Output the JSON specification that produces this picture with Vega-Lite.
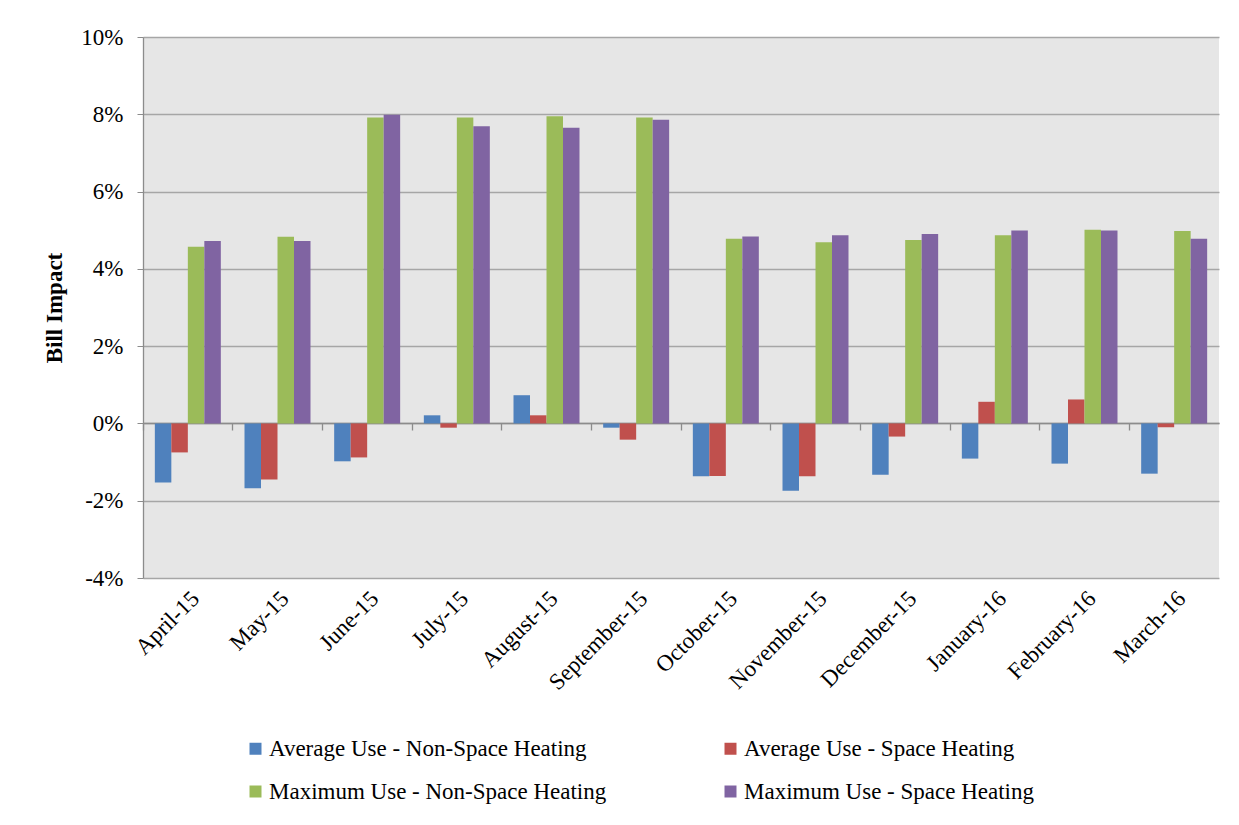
{
  "$schema": "https://vega.github.io/schema/vega-lite/v6.json",
  "width": 1076,
  "height": 541,
  "autosize": {"type": "none"},
  "padding": {"left": 143, "top": 37, "right": 20, "bottom": 247},
  "background": "white",
  "config": {
    "view": {"stroke": null, "fill": "#e6e6e6"},
    "font": "Liberation Serif"
  },
  "data": {
    "values": [
      {"month": "April-15", "series": "Average Use - Non-Space Heating", "value": -1.53},
      {"month": "April-15", "series": "Average Use - Space Heating", "value": -0.75},
      {"month": "April-15", "series": "Maximum Use - Non-Space Heating", "value": 4.57},
      {"month": "April-15", "series": "Maximum Use - Space Heating", "value": 4.72},
      {"month": "May-15", "series": "Average Use - Non-Space Heating", "value": -1.68},
      {"month": "May-15", "series": "Average Use - Space Heating", "value": -1.45},
      {"month": "May-15", "series": "Maximum Use - Non-Space Heating", "value": 4.83},
      {"month": "May-15", "series": "Maximum Use - Space Heating", "value": 4.72},
      {"month": "June-15", "series": "Average Use - Non-Space Heating", "value": -0.98},
      {"month": "June-15", "series": "Average Use - Space Heating", "value": -0.88},
      {"month": "June-15", "series": "Maximum Use - Non-Space Heating", "value": 7.92},
      {"month": "June-15", "series": "Maximum Use - Space Heating", "value": 7.99},
      {"month": "July-15", "series": "Average Use - Non-Space Heating", "value": 0.21},
      {"month": "July-15", "series": "Average Use - Space Heating", "value": -0.11},
      {"month": "July-15", "series": "Maximum Use - Non-Space Heating", "value": 7.92},
      {"month": "July-15", "series": "Maximum Use - Space Heating", "value": 7.69},
      {"month": "August-15", "series": "Average Use - Non-Space Heating", "value": 0.73},
      {"month": "August-15", "series": "Average Use - Space Heating", "value": 0.21},
      {"month": "August-15", "series": "Maximum Use - Non-Space Heating", "value": 7.95},
      {"month": "August-15", "series": "Maximum Use - Space Heating", "value": 7.65},
      {"month": "September-15", "series": "Average Use - Non-Space Heating", "value": -0.11},
      {"month": "September-15", "series": "Average Use - Space Heating", "value": -0.42},
      {"month": "September-15", "series": "Maximum Use - Non-Space Heating", "value": 7.92},
      {"month": "September-15", "series": "Maximum Use - Space Heating", "value": 7.86},
      {"month": "October-15", "series": "Average Use - Non-Space Heating", "value": -1.37},
      {"month": "October-15", "series": "Average Use - Space Heating", "value": -1.36},
      {"month": "October-15", "series": "Maximum Use - Non-Space Heating", "value": 4.78},
      {"month": "October-15", "series": "Maximum Use - Space Heating", "value": 4.84},
      {"month": "November-15", "series": "Average Use - Non-Space Heating", "value": -1.74},
      {"month": "November-15", "series": "Average Use - Space Heating", "value": -1.37},
      {"month": "November-15", "series": "Maximum Use - Non-Space Heating", "value": 4.69},
      {"month": "November-15", "series": "Maximum Use - Space Heating", "value": 4.87},
      {"month": "December-15", "series": "Average Use - Non-Space Heating", "value": -1.33},
      {"month": "December-15", "series": "Average Use - Space Heating", "value": -0.34},
      {"month": "December-15", "series": "Maximum Use - Non-Space Heating", "value": 4.75},
      {"month": "December-15", "series": "Maximum Use - Space Heating", "value": 4.90},
      {"month": "January-16", "series": "Average Use - Non-Space Heating", "value": -0.91},
      {"month": "January-16", "series": "Average Use - Space Heating", "value": 0.56},
      {"month": "January-16", "series": "Maximum Use - Non-Space Heating", "value": 4.87},
      {"month": "January-16", "series": "Maximum Use - Space Heating", "value": 4.99},
      {"month": "February-16", "series": "Average Use - Non-Space Heating", "value": -1.04},
      {"month": "February-16", "series": "Average Use - Space Heating", "value": 0.62},
      {"month": "February-16", "series": "Maximum Use - Non-Space Heating", "value": 5.01},
      {"month": "February-16", "series": "Maximum Use - Space Heating", "value": 4.99},
      {"month": "March-16", "series": "Average Use - Non-Space Heating", "value": -1.30},
      {"month": "March-16", "series": "Average Use - Space Heating", "value": -0.10},
      {"month": "March-16", "series": "Maximum Use - Non-Space Heating", "value": 4.98},
      {"month": "March-16", "series": "Maximum Use - Space Heating", "value": 4.78}
    ]
  },
  "encoding": {
    "x": {
      "field": "month",
      "type": "nominal",
      "sort": null,
      "scale": {"paddingInner": 0.264, "paddingOuter": 0.132}
    },
    "xOffset": {
      "field": "series",
      "type": "nominal",
      "sort": null,
      "scale": {"paddingInner": 0, "paddingOuter": 0}
    },
    "y": {
      "field": "value",
      "type": "quantitative",
      "scale": {"domain": [-4, 10], "nice": false, "zero": false},
      "axis": {
        "title": "Bill Impact",
        "titleFont": "Liberation Serif",
        "titleFontSize": 23,
        "titleFontWeight": "bold",
        "titleColor": "black",
        "titlePadding": 14,
        "values": [-4, -2, 0, 2, 4, 6, 8, 10],
        "labelExpr": "datum.value + '%'",
        "labelFont": "Liberation Serif",
        "labelFontSize": 23,
        "labelColor": "black",
        "labelPadding": 14,
        "tickSize": 6,
        "tickColor": "#8c8c8c",
        "domainColor": "#8c8c8c",
        "domainWidth": 1.3,
        "grid": true,
        "gridColor": "#a6a6a6",
        "gridWidth": 1.3
      }
    },
    "color": {
      "field": "series",
      "type": "nominal",
      "scale": {
        "domain": ["Average Use - Non-Space Heating", "Average Use - Space Heating", "Maximum Use - Non-Space Heating", "Maximum Use - Space Heating"],
        "range": ["#4f81bd", "#c0504d", "#9bbb59", "#8064a2"]
      },
      "legend": {
        "title": null,
        "orient": "none",
        "legendX": 101,
        "legendY": 700,
        "direction": "horizontal",
        "columns": 2,
        "columnPadding": 112,
        "rowPadding": 19,
        "symbolType": "square",
        "symbolSize": 144,
        "symbolStrokeWidth": 0,
        "labelFont": "Liberation Serif",
        "labelFontSize": 23,
        "labelColor": "black",
        "labelOffset": 2,
        "labelLimit": 500
      }
    }
  },
  "layer": [
    {
      "mark": {"type": "bar"},
      "encoding": {
        "x": {
          "field": "month",
          "type": "nominal",
          "sort": null,
          "axis": {
            "orient": "bottom",
            "title": null,
            "domain": false,
            "ticks": false,
            "grid": false,
            "labelAngle": -45,
            "labelFont": "Liberation Serif",
            "labelFontSize": 23,
            "labelColor": "black",
            "labelPadding": 9
          }
        }
      }
    },
    {
      "mark": {"type": "bar", "opacity": 0},
      "encoding": {
        "x": {
          "field": "month",
          "type": "nominal",
          "sort": null,
          "axis": {
            "orient": "bottom",
            "offset": -155,
            "title": null,
            "labels": false,
            "grid": false,
            "domain": true,
            "domainColor": "#8c8c8c",
            "domainWidth": 1.3,
            "ticks": true,
            "tickSize": 7,
            "tickColor": "#8c8c8c",
            "tickWidth": 1.3,
            "bandPosition": -0.179
          }
        }
      }
    }
  ],
  "resolve": {"axis": {"x": "independent"}}
}
